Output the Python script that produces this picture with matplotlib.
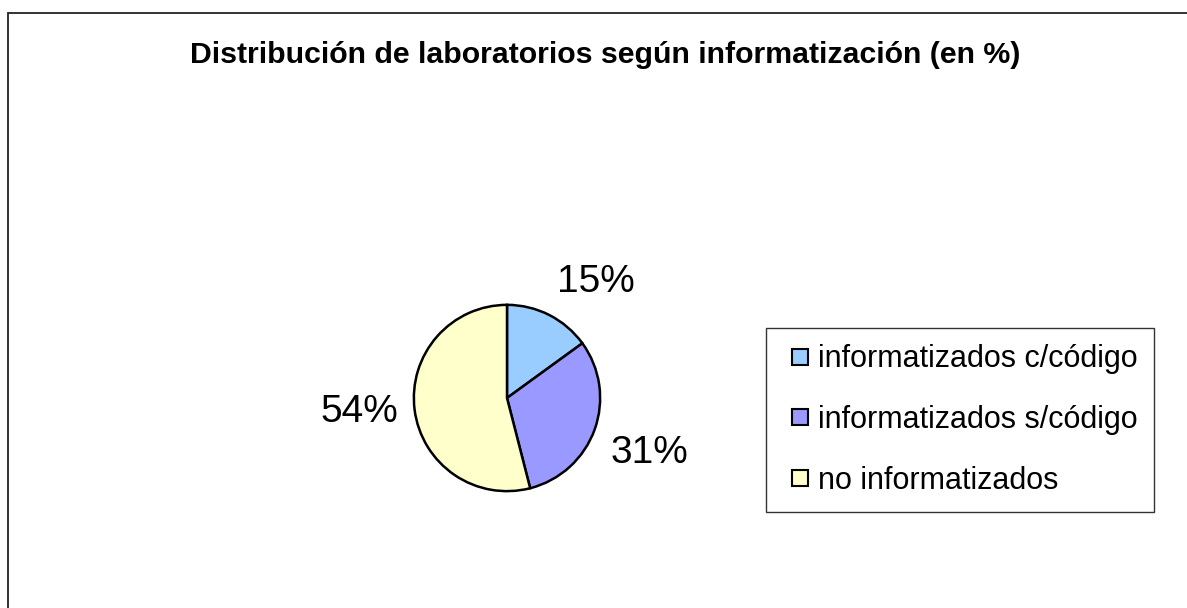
import numpy as np
import matplotlib
matplotlib.use("Agg")
import matplotlib.pyplot as plt
from matplotlib.patches import Rectangle
from matplotlib.lines import Line2D

plt.rcParams['font.family'] = ['Liberation Sans', 'DejaVu Sans']

title = "Distribución de laboratorios según informatización (en %)"
categories = ["informatizados c/código", "informatizados s/código", "no informatizados"]
values = [15, 31, 54]
colors = ["#99CCFF", "#9999FF", "#FFFFCC"]

W, H = 1187, 608
fig = plt.figure(figsize=(W / 100, H / 100), dpi=100)

# outer chart frame (right/bottom edges outside the image)
fig.patches.append(Rectangle((8 / W, -0.1), 1.2, 1 - 13 / H + 0.1, transform=fig.transFigure,
                             fill=False, edgecolor="#222222", linewidth=1.3, figure=fig))

fig.text(605 / W, 1 - 55 / H, title, ha="center", va="center", fontsize=21.8, fontweight="bold")

cx, cy, r = 507, 398, 95
ax = fig.add_axes([(cx - r) / W, (H - cy - r) / H, 2 * r / W, 2 * r / H])
wedges, _ = ax.pie(values, colors=colors, startangle=90, counterclock=False,
                   wedgeprops=dict(edgecolor="black", linewidth=1.8))
ax.set_xlim(-1.02, 1.02)
ax.set_ylim(-1.02, 1.02)
ax.set_aspect("equal")
ax.axis("off")

for w, v in zip(wedges, values):
    ang = np.deg2rad((w.theta1 + w.theta2) / 2)
    c, s = np.cos(ang), np.sin(ang)
    ha = "left" if c > 0.3 else ("right" if c < -0.3 else "center")
    va = "bottom" if s > 0.3 else ("top" if s < -0.3 else "center")
    ax.text(1.18 * c, 1.18 * s, f"{v}%", ha=ha, va=va, fontsize=28, clip_on=False)

handles = [Line2D([], [], marker="s", linestyle="none", markersize=11,
                  markerfacecolor=col, markeredgecolor="black", markeredgewidth=1.5)
           for col in colors]
leg = fig.legend(handles, categories, loc="center left", bbox_to_anchor=(766 / W, 1 - 420 / H),
                 fontsize=22, frameon=True, fancybox=False, edgecolor="black",
                 handlelength=1.15, handletextpad=0.0, labelspacing=1.0,
                 borderpad=0.55, borderaxespad=0, numpoints=1)
leg.get_frame().set_linewidth(1.0)

fig.savefig("out.png", dpi=100)
